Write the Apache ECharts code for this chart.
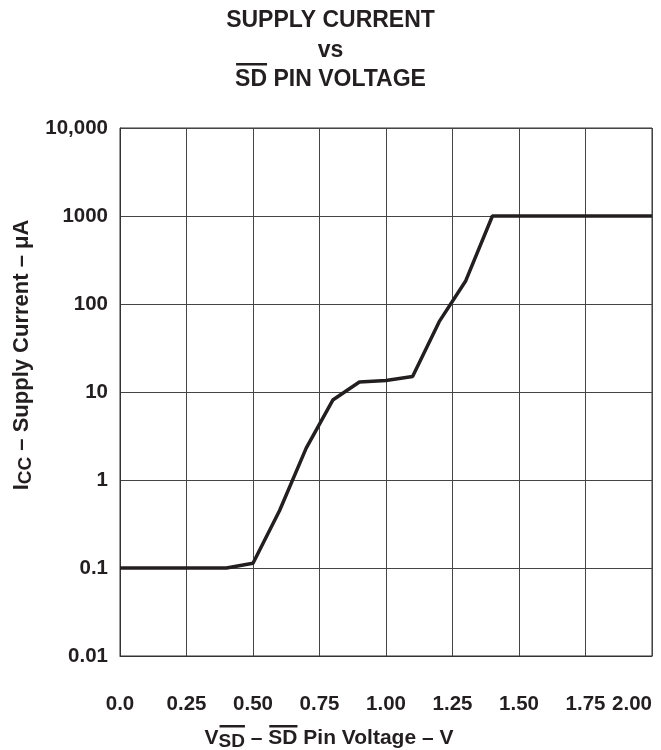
<!DOCTYPE html>
<html>
<head>
<meta charset="utf-8">
<script src="https://cdn.jsdelivr.net/npm/echarts@6/dist/echarts.min.js"></script>
<style>
html,body{margin:0;padding:0;background:#fff;}
#c{width:661px;height:750px;}
</style>
</head>
<body>
<div id="c"></div>
<script>
// ---- data ----
var voltage = [0.0, 0.4, 0.5, 0.6, 0.7, 0.8, 0.9, 1.0, 1.1, 1.2, 1.3, 1.4, 2.0];
var current = [0.1, 0.1, 0.113, 0.45, 2.3, 8.1, 13, 13.5, 15, 63, 184, 1000, 1000];
var xTickLabels = ['0.0', '0.25', '0.50', '0.75', '1.00', '1.25', '1.50', '1.75', '2.00'];
var yTickLabels = ['0.01', '0.1', '1', '10', '100', '1000', '10,000'];

var FONT = '"Liberation Sans", Arial, Helvetica, sans-serif';
var INK = '#231f20';

var chart = echarts.init(document.getElementById('c'), null, {renderer: 'canvas'});

var ctx = document.createElement('canvas').getContext('2d');
function tw(text, size) {
  ctx.font = 'bold ' + size + 'px ' + FONT;
  return ctx.measureText(text).width;
}

// build a line of text parts with optional subscripts/overlines
function buildLine(parts, cx, cy, overY) {
  var els = [];
  var total = 0;
  parts.forEach(function (p) { p.w = tw(p.t, p.size); total += p.w; });
  var x = cx - total / 2;
  parts.forEach(function (p) {
    var dy = p.sub ? 4 : 0;
    els.push({
      type: 'text', x: x, y: cy + dy,
      style: {text: p.t, font: 'bold ' + p.size + 'px ' + FONT, fill: INK,
              textAlign: 'left', textVerticalAlign: 'middle'}
    });
    if (p.over) {
      els.push({
        type: 'rect', x: x + 1, y: overY,
        shape: {x: 0, y: 0, width: p.w - 1, height: 2.5},
        style: {fill: INK}
      });
    }
    x += p.w;
  });
  return els;
}

var graphics = [];
graphics.push({type: 'text', x: 330.5, y: 21,
  style: {text: 'SUPPLY CURRENT', font: 'bold 23px ' + FONT, fill: INK, textAlign: 'center', textVerticalAlign: 'middle'}});
graphics.push({type: 'text', x: 330.5, y: 51,
  style: {text: 'vs', font: 'bold 23px ' + FONT, fill: INK, textAlign: 'center', textVerticalAlign: 'middle'}});
graphics = graphics.concat(buildLine([
  {t: 'SD', size: 23, over: true},
  {t: ' PIN VOLTAGE', size: 23}
], 330.5, 80, 63));

graphics = graphics.concat(buildLine([
  {t: 'V', size: 21},
  {t: 'SD', size: 19, sub: true, over: true},
  {t: ' \u2013 ', size: 21},
  {t: 'SD', size: 21, over: true},
  {t: ' Pin Voltage \u2013 V', size: 21}
], 329, 738, 725));

graphics.push({
  type: 'text', x: 23, y: 355, rotation: Math.PI / 2,
  style: {
    text: '{n|I}{s|CC}{n| \u2013 Supply Current \u2013 \u03bcA}',
    textAlign: 'center', textVerticalAlign: 'middle', fill: INK,
    rich: {
      n: {font: 'bold 22px ' + FONT, fill: INK, verticalAlign: 'top'},
      s: {font: 'bold 19px ' + FONT, fill: INK, padding: [5, 0, 0, 0]}
    }
  }
});

var option = {
  animation: false,
  backgroundColor: '#fff',
  grid: {left: 120, right: 9, top: 128, bottom: 94, show: true, borderColor: '#333', borderWidth: 1, containLabel: false},
  xAxis: {
    type: 'value', min: 0, max: 2, interval: 0.25,
    axisLine: {show: true, lineStyle: {color: '#333', width: 1}},
    axisTick: {show: false},
    splitLine: {show: true, lineStyle: {color: '#444', width: 1}},
    axisLabel: {
      margin: 38, color: INK, fontFamily: FONT, fontWeight: 'bold', fontSize: 20.5,
      alignMaxLabel: 'right',
      formatter: function (v) { return xTickLabels[Math.round(v / 0.25)]; }
    }
  },
  yAxis: {
    type: 'log', logBase: 10, min: 0.01, max: 10000,
    axisLine: {show: true, lineStyle: {color: '#333', width: 1}},
    axisTick: {show: false},
    splitLine: {show: true, lineStyle: {color: '#444', width: 1}},
    minorSplitLine: {show: false},
    axisLabel: {
      margin: 12, color: INK, fontFamily: FONT, fontWeight: 'bold', fontSize: 20.5,
      formatter: function (v) { return yTickLabels[Math.round(Math.log10(v)) + 2]; }
    }
  },
  series: [{
    type: 'line',
    data: voltage.map(function (v, i) { return [v, current[i]]; }),
    symbol: 'none',
    lineStyle: {color: INK, width: 3.5},
    z: 5
  }],
  graphic: graphics
};
chart.setOption(option);
</script>
</body>
</html>
